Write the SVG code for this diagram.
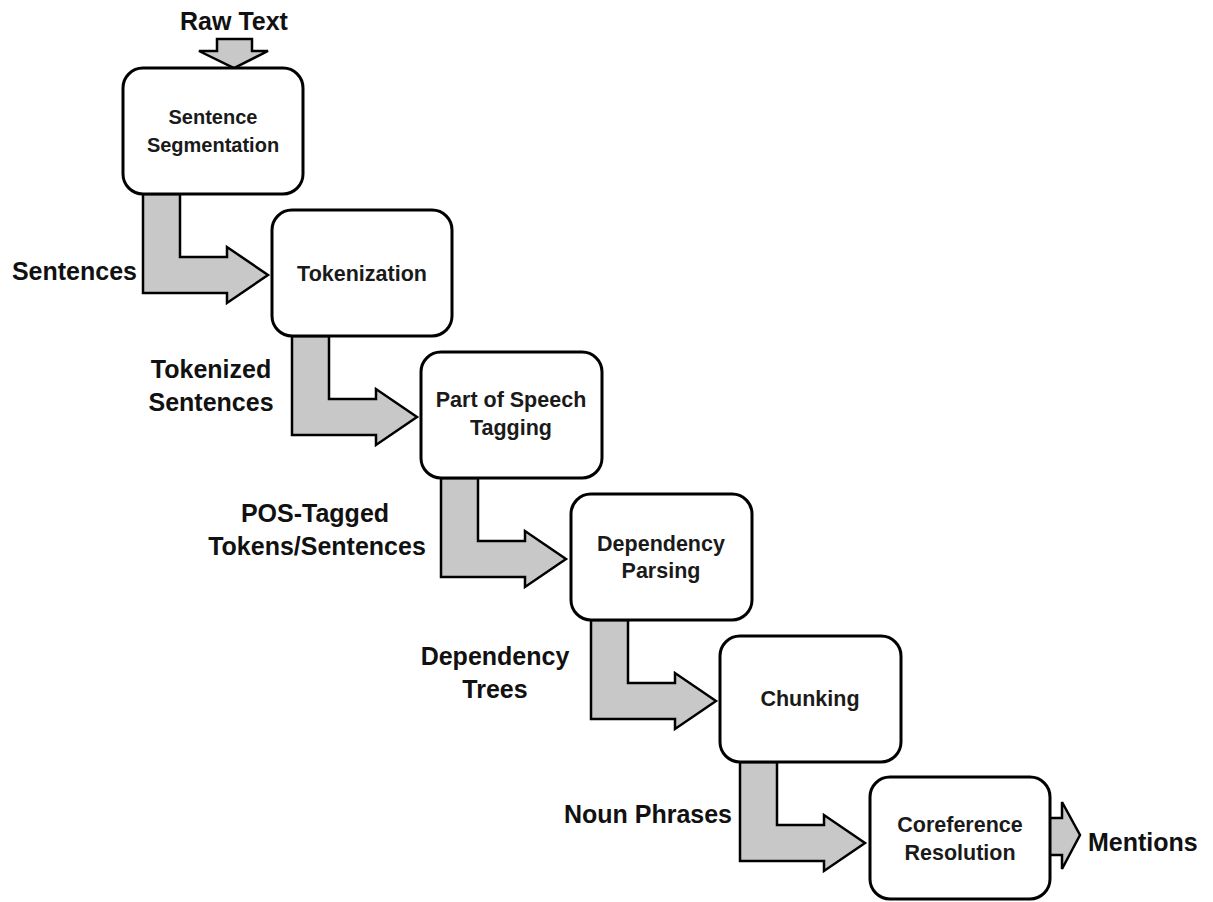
<svg xmlns="http://www.w3.org/2000/svg" width="1213" height="902" viewBox="0 0 1213 902">
<style>
.box{fill:#fff;stroke:#000;stroke-width:3}
.arr{fill:#c8c8c8;stroke:#000;stroke-width:2.5;stroke-linejoin:miter}
.nt{font-family:"Liberation Sans",Arial,sans-serif;font-weight:bold;font-size:21.5px;fill:#1a1a1a;text-anchor:middle}
.sm{font-size:20px}
.lb{font-family:"Liberation Sans",Arial,sans-serif;font-weight:bold;font-size:25px;fill:#111}
.mid{text-anchor:middle}
.end{text-anchor:end}
</style>
<rect width="1213" height="902" fill="#fff"/>
<g id="connectors">
<polygon class="arr" points="217,39 252,39 252,51 268,51 234,68 199,51 217,51"/>
<polygon class="arr" points="143,194 180,194 180,257 227,257 227,247 268,275 227,303 227,293 143,293"/>
<polygon class="arr" points="292,336 329,336 329,399 376,399 376,389 417,417 376,445 376,435 292,435"/>
<polygon class="arr" points="441,478 478,478 478,541 525,541 525,531 566,559 525,587 525,577 441,577"/>
<polygon class="arr" points="591,620 628,620 628,683 675,683 675,673 716,701 675,729 675,719 591,719"/>
<polygon class="arr" points="740,762 777,762 777,825 824,825 824,815 865,843 824,871 824,861 740,861"/>
<polygon class="arr" points="1049,818 1062,818 1062,802 1080,835 1062,869 1062,855 1049,855"/>
</g>
<g id="node-sentence-segmentation">
<rect class="box" x="123" y="68" width="180" height="126" rx="20"/>
<text class="nt sm" x="213" y="124">Sentence</text>
<text class="nt sm" x="213" y="152">Segmentation</text>
</g>
<g id="node-tokenization">
<rect class="box" x="272" y="210" width="180" height="126" rx="20"/>
<text class="nt" x="362" y="281">Tokenization</text>
</g>
<g id="node-pos-tagging">
<rect class="box" x="421" y="352" width="181" height="126" rx="20"/>
<text class="nt" x="511" y="407">Part of Speech</text>
<text class="nt" x="511" y="435">Tagging</text>
</g>
<g id="node-dependency-parsing">
<rect class="box" x="571" y="494" width="181" height="126" rx="20"/>
<text class="nt" x="661" y="551">Dependency</text>
<text class="nt" x="661" y="578">Parsing</text>
</g>
<g id="node-chunking">
<rect class="box" x="720" y="636" width="181" height="126" rx="20"/>
<text class="nt" x="810" y="706">Chunking</text>
</g>
<g id="node-coreference-resolution">
<rect class="box" x="870" y="777" width="180" height="122" rx="20"/>
<text class="nt" x="960" y="832">Coreference</text>
<text class="nt" x="960" y="860">Resolution</text>
</g>
<g id="labels">
<text class="lb mid" x="234" y="30">Raw Text</text>
<text class="lb end" x="137" y="280">Sentences</text>
<text class="lb mid" x="211" y="378">Tokenized</text>
<text class="lb mid" x="211" y="411">Sentences</text>
<text class="lb mid" x="315" y="522">POS-Tagged</text>
<text class="lb mid" x="317" y="555">Tokens/Sentences</text>
<text class="lb mid" x="495" y="665">Dependency</text>
<text class="lb mid" x="495" y="698">Trees</text>
<text class="lb end" x="732" y="823">Noun Phrases</text>
<text class="lb" x="1088" y="851">Mentions</text>
</g>
</svg>
